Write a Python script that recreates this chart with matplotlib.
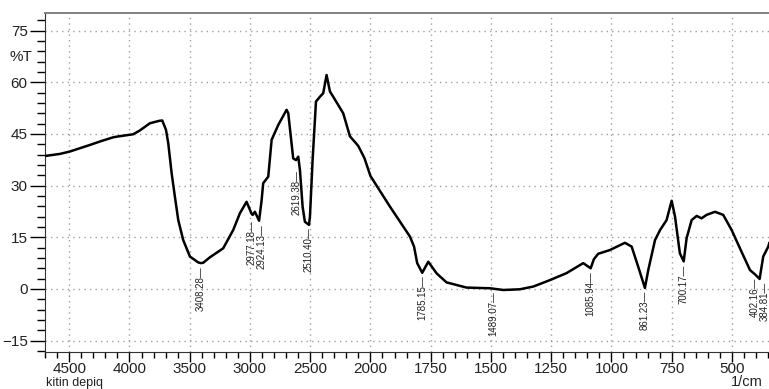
import numpy as np
import matplotlib
matplotlib.use('Agg')
import matplotlib.pyplot as plt
from matplotlib.ticker import FixedLocator, FuncFormatter, NullFormatter

plt.rcParams['font.family'] = ['Liberation Sans', 'DejaVu Sans']

# ---- data ----
wavenumber = [4700, 4577, 4494, 4328, 4245, 4137, 4107, 3969, 3914, 3830, 3753, 3728,
              3697, 3678, 3650, 3623, 3595, 3554, 3498, 3429, 3408, 3388, 3332, 3222,
              3139, 3083, 3028, 2986, 2977, 2959, 2924, 2903, 2890, 2848, 2820, 2765,
              2696, 2682, 2641, 2618, 2599, 2585, 2563, 2544, 2510, 2502, 2480, 2452,
              2419, 2392, 2364, 2336, 2309, 2226, 2170, 2120, 2101, 2050, 2000, 1919,
              1836, 1819, 1806, 1785, 1760, 1725, 1684, 1656, 1629, 1601, 1504, 1449,
              1380, 1324, 1254, 1186, 1117, 1086, 1073, 1055, 1006, 944, 916, 889,
              861, 847, 819, 798, 771, 750, 736, 716, 700, 688, 667, 646, 626, 605,
              570, 536, 501, 460, 425, 402, 395, 385, 370, 349, 345]
transmittance = [38.6, 39.2, 39.9, 41.8, 42.8, 44.0, 44.2, 44.9, 46.0, 48.1, 48.8, 48.9,
                 46.2, 42.3, 33.6, 26.8, 20.0, 14.2, 9.4, 7.7, 7.5, 7.6, 9.2, 11.8,
                 17.1, 22.0, 25.3, 21.8, 21.5, 22.4, 19.8, 25.8, 30.7, 32.6, 43.3, 47.6,
                 52.0, 51.0, 37.9, 37.4, 38.4, 34.5, 23.9, 19.5, 18.6, 21.0, 37.4, 54.4,
                 55.8, 56.8, 62.1, 57.3, 55.8, 51.0, 44.3, 42.3, 41.5, 38.0, 32.8, 23.9,
                 15.2, 12.3, 7.5, 4.7, 7.9, 4.5, 1.9, 1.4, 0.9, 0.4, 0.2, -0.3,
                 -0.1, 0.7, 2.6, 4.6, 7.5, 6.0, 8.6, 10.2, 11.3, 13.4, 12.3, 6.5,
                 0.3, 5.5, 14.2, 17.1, 20.0, 25.6, 21.0, 10.4, 8.0, 14.7, 20.0, 21.2, 20.5, 21.5,
                 22.4, 21.5, 17.1, 10.8, 5.5, 4.1, 3.6, 2.9, 9.4, 12.3, 13.3]
peak_wavenumbers = [3408.28, 2977.18, 2924.13, 2619.38, 2510.40, 1785.15, 1489.07,
                    1085.94, 861.23, 700.17, 402.16, 384.81]
x_major_ticks = [4500, 4000, 3500, 3000, 2500, 2000, 1750, 1500, 1250, 1000, 750, 500]
y_major_ticks = [-15, 0, 15, 30, 45, 60, 75]

# label offsets in pixels (dx, dy) relative to the curve point
label_offsets = {2619.38: (1, -10), 2924.13: (2, -4), 2977.18: (-1, -5),
                 402.16: (-1, -3), 384.81: (5, -3)}


# two-range wavenumber scale (half scale above 2000 1/cm)
def fwd(x):
    x = np.asarray(x, float)
    return np.where(x > 2000, 2000 + (x - 2000) / 2.0, x)


def inv(u):
    u = np.asarray(u, float)
    return np.where(u > 2000, 2000 + (u - 2000) * 2.0, u)


fig = plt.figure(figsize=(7.69, 3.89), dpi=100)
ax = fig.add_axes([45 / 769, 37 / 389, 724 / 769, 339 / 389])
ax.set_xscale('function', functions=(fwd, inv))
ax.plot(wavenumber, transmittance, color='black', lw=1.8, zorder=3,
        solid_joinstyle='round')
ax.set_xlim(4701, 346)
ax.set_ylim(-18.3, 80.1)

ax.xaxis.set_major_locator(FixedLocator(x_major_ticks))
ax.xaxis.set_major_formatter(FuncFormatter(lambda v, p: f"{int(round(v))}"))
minor_x = [v for v in list(range(4700, 2000, -100)) + list(range(2000, 340, -50))
           if v not in x_major_ticks]
ax.xaxis.set_minor_locator(FixedLocator(minor_x))
ax.xaxis.set_minor_formatter(NullFormatter())

ax.yaxis.set_major_locator(FixedLocator(y_major_ticks))
ax.yaxis.set_minor_locator(FixedLocator([v for v in range(-18, 80, 3) if v % 15 != 0]))
ax.yaxis.set_minor_formatter(NullFormatter())

ax.tick_params(axis='x', which='major', direction='out', length=7, width=1,
               labelsize=11, pad=0.3, colors='black', labelcolor='#222222')
ax.tick_params(axis='x', which='minor', direction='out', length=4, width=1)
ax.tick_params(axis='y', which='major', direction='out', length=11, width=1,
               labelsize=11, pad=1.5, labelcolor='#222222')
ax.tick_params(axis='y', which='minor', direction='out', length=6, width=1)
ax.tick_params(top=False, right=False, which='both')

ax.grid(True, which='major', color='#a0a0a0', linestyle=(0, (1, 3)), lw=1)
ax.spines['right'].set_visible(False)
ax.spines['top'].set_color('#808080')
ax.spines['top'].set_linewidth(1.4)
ax.spines['left'].set_color('#333333')
ax.spines['bottom'].set_color('#333333')

# peak labels
wn_asc = np.array(wavenumber[::-1], float)
t_asc = np.array(transmittance[::-1], float)
for pk in peak_wavenumbers:
    ty = float(np.interp(pk, wn_asc, t_asc))
    dx, dy = label_offsets.get(pk, (0, -3))
    ax.annotate(f"{pk:.2f}\u2014", xy=(pk, ty), xytext=(dx, dy),
                textcoords='offset pixels', rotation=90, ha='center', va='top',
                fontsize=7, color='#222222', zorder=4)

fig.text(10 / 769, 1 - 57 / 389, '%T', ha='left', va='center', fontsize=11,
         color='#222222')
fig.text(46 / 769, 0.3 / 389, 'kitin depiq', ha='left', va='bottom', fontsize=9,
         color='#222222')
fig.text(763 / 769, 0.3 / 389, '1/cm', ha='right', va='bottom', fontsize=10.5,
         color='#222222')

fig.savefig('out.png', dpi=100)
